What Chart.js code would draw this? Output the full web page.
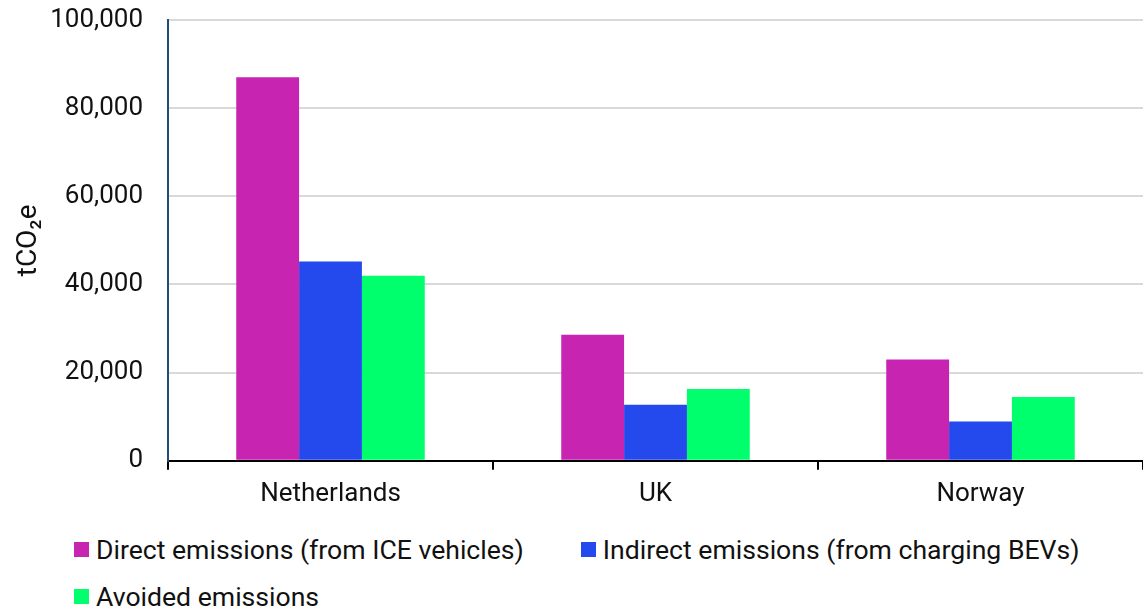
<!DOCTYPE html>
<html>
<head>
<meta charset="utf-8">
<script src="https://cdn.jsdelivr.net/npm/chart.js@4"></script>
<style>
  html, body { margin: 0; padding: 0; background: #fff; }
  body { width: 1143px; height: 610px; overflow: hidden; font-family: Roboto, sans-serif; }
  #wrap { position: relative; width: 1143px; height: 519px; }
  #legend { display: flex; flex-wrap: wrap; width: 1143px; padding: 7px 0 0 74px; box-sizing: border-box; font-size: 26.6px; color: #111; }
  #legend .item { display: flex; align-items: center; height: 47px; margin-right: 57px; }
  #legend .box { width: 15px; height: 15px; margin-right: 7px; }
</style>
</head>
<body>
<div id="wrap"><canvas id="chart"></canvas></div>
<div id="legend"></div>
<script>
// --- data ---
const categories = ["Netherlands", "UK", "Norway"];
const directEmissions = [87000, 28600, 23000];
const indirectEmissions = [45200, 12700, 8900];
const avoidedEmissions = [42000, 16300, 14500];
const seriesNames = [
  "Direct emissions (from ICE vehicles)",
  "Indirect emissions (from charging BEVs)",
  "Avoided emissions"
];
const seriesColors = ["#C724B1", "#2449EC", "#00FF6C"];

document.addEventListener("DOMContentLoaded", () => {
  Chart.defaults.font.family = "Roboto, sans-serif";
  Chart.defaults.color = "#111";

  const data = {
    labels: categories,
    datasets: [directEmissions, indirectEmissions, avoidedEmissions].map((vals, i) => ({
      label: seriesNames[i],
      data: vals,
      backgroundColor: seriesColors[i],
      borderWidth: 0,
      barPercentage: 1,
      categoryPercentage: 0.58
    }))
  };

  new Chart(document.getElementById("chart"), {
    type: "bar",
    data: data,
    options: {
      responsive: true,
      maintainAspectRatio: false,
      animation: false,
      layout: { padding: { top: 20, right: 0, left: 12, bottom: 0 } },
      plugins: { legend: { display: false }, tooltip: { enabled: false } },
      scales: {
        x: {
          grid: { offset: true, drawOnChartArea: false, drawTicks: true, tickLength: 9, color: "#000", lineWidth: 2 },
          border: { display: true, color: "#000", width: 2 },
          ticks: { font: { size: 26 }, padding: 9, color: "#111" }
        },
        y: {
          min: 0,
          max: 100000,
          afterFit: scale => { scale.width = 156; scale.paddingTop = 0; scale.paddingBottom = 0; },
          ticks: {
            stepSize: 20000,
            font: { size: 26 },
            padding: 25,
            color: "#111",
            callback: v => v.toLocaleString("en-US")
          },
          grid: { color: "#d9d9d9", lineWidth: 2, drawTicks: false },
          border: { display: true, color: "#1f4e79", width: 2 },
          title: { display: true, text: "tCO\u2082e", font: { size: 28 }, color: "#111", padding: { top: 0, bottom: 6 } }
        }
      }
    }
  });

  // legend as html so rows wrap from the left
  const legend = document.getElementById("legend");
  seriesNames.forEach((name, i) => {
    const item = document.createElement("div");
    item.className = "item";
    item.innerHTML = `<span class="box" style="background:${seriesColors[i]}"></span>${name}`;
    legend.appendChild(item);
  });
});
</script>
</body>
</html>
